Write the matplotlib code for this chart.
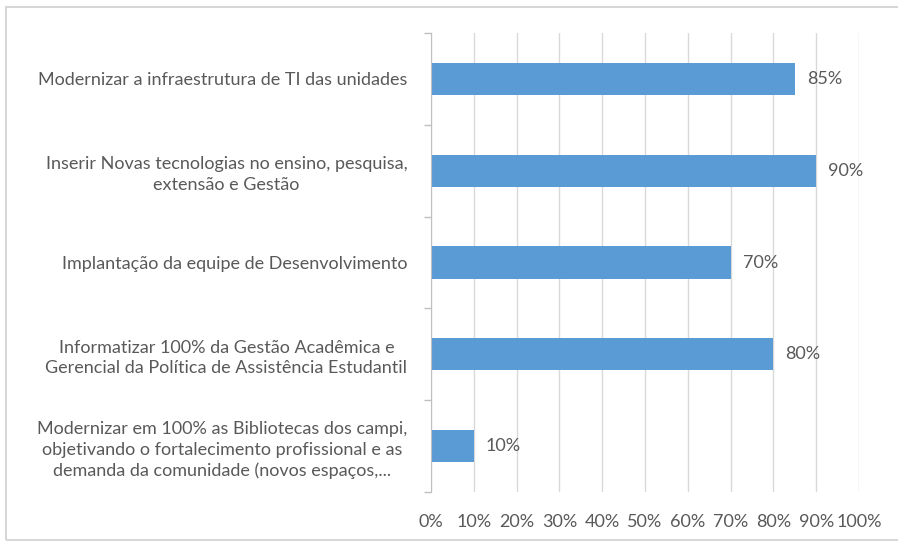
import matplotlib
matplotlib.use("Agg")
import matplotlib.pyplot as plt
from matplotlib.patches import Rectangle
from matplotlib.ticker import FixedLocator, FuncFormatter

categories = [
    "Modernizar a infraestrutura de TI das unidades",
    "Inserir Novas tecnologias no ensino, pesquisa,\nextensão e Gestão",
    "Implantação da equipe de Desenvolvimento",
    "Informatizar 100% da Gestão Acadêmica e\nGerencial da Política de Assistência Estudantil",
    "Modernizar em 100% as Bibliotecas dos campi,\nobjetivando o fortalecimento profissional e as\ndemanda da comunidade (novos espaços,...",
]
values = [85, 90, 70, 80, 10]
xticks = [0, 10, 20, 30, 40, 50, 60, 70, 80, 90, 100]

plt.rcParams['font.family'] = ['Lato', 'DejaVu Sans']
text_color = '#595959'
bar_color = '#5B9BD5'
grid_color = '#D9D9D9'
fs = 13

fig = plt.figure(figsize=(8.98, 5.44), dpi=100)
fig.patches.append(Rectangle((6/898, 4/544), 1.0, 1 - 11/544, transform=fig.transFigure,
                             fill=False, edgecolor='#D0D0D0', linewidth=1.2))
ax = fig.add_axes([431/898, 1 - 492/544, 428/898, (492 - 33)/544])

ypos = list(range(len(categories)))
ax.barh(ypos, values, height=0.35, color=bar_color, zorder=3)
for y, v in zip(ypos, values):
    ax.text(v + 2.8, y, f"{v}%", va='center', ha='left', fontsize=fs, color=text_color)

ax.set_xlim(0, 100)
ax.set_ylim(len(categories) - 0.5, -0.5)
ax.xaxis.set_major_locator(FixedLocator(xticks))
ax.xaxis.set_major_formatter(FuncFormatter(lambda x, p: f"{int(x)}%"))
ax.tick_params(axis='x', length=0, labelsize=fs, labelcolor=text_color, pad=16)
ax.grid(axis='x', color=grid_color, linewidth=1, zorder=0)

ax.set_yticks(ypos)
ax.set_yticklabels(categories, multialignment='center', linespacing=1.35)
ax.tick_params(axis='y', which='major', length=0, labelsize=fs, labelcolor=text_color, pad=17)
ax.set_yticks([i - 0.5 for i in range(len(categories) + 1)], minor=True)
ax.tick_params(axis='y', which='minor', length=5, color='#BFBFBF', width=1)

for s in ['top', 'right', 'bottom']:
    ax.spines[s].set_visible(False)
ax.spines['left'].set_color('#BFBFBF')
ax.spines['left'].set_zorder(4)

fig.savefig('out.png', dpi=100)
